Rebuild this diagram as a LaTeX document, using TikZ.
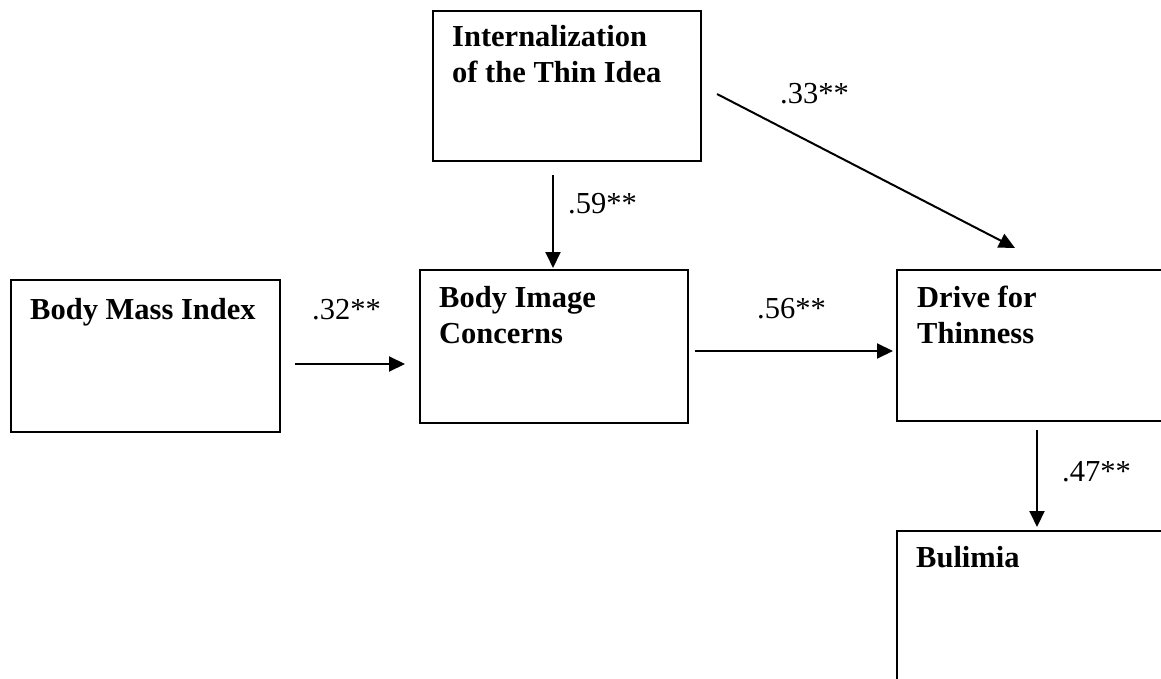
\documentclass[tikz,border=0pt]{standalone}
\usepackage{fontspec}
\setmainfont{Liberation Serif}
\usetikzlibrary{arrows.meta}
\newcommand{\Gross}{\fontsize{30.5}{36}\selectfont}
\tikzset{
  Kasten/.style={draw, line width=2pt, inner sep=0pt, anchor=north west}, % Rahmen
  Titel/.style={anchor=north west, inner sep=0pt, align=left, font=\Gross\bfseries}, % Text im Rahmen
  Wert/.style={anchor=base west, inner sep=0pt, font=\Gross}, % Pfadkoeffizient
  Pfeil/.style={line width=2pt, ->}
}

\begin{document}
\begin{tikzpicture}[x=1pt, y=1pt,
>={Triangle[length=16pt,width=15pt]} % Pfeilspitzen
]
\clip (0,0) rectangle (1161,-679);

%Kaesten
\node[Kasten, minimum width=268pt, minimum height=150pt] (intern) at (432,-10) {};
\node[Kasten, minimum width=269pt, minimum height=152pt] (bmi) at (10,-279) {};
\node[Kasten, minimum width=268pt, minimum height=153pt] (bodyimg) at (419,-269) {};
\node[Kasten, minimum width=300pt, minimum height=151pt] (drive) at (896,-269) {};
\node[Kasten, minimum width=300pt, minimum height=220pt] (bulimia) at (896,-530) {};

%Beschriftungen
\node[Titel] (intern-t) at ([shift={(20,-11)}]intern.north west) {\strut Internalization\\of the Thin Idea};
\node[Titel] (bmi-t) at ([shift={(20,-15)}]bmi.north west) {\strut Body Mass Index};
\node[Titel] (bodyimg-t) at ([shift={(20,-13)}]bodyimg.north west) {\strut Body Image\\Concerns};
\node[Titel] (drive-t) at ([shift={(21,-13)}]drive.north west) {\strut Drive for\\Thinness};
\node[Titel] (bulimia-t) at ([shift={(20,-12)}]bulimia.north west) {\strut Bulimia};

%Pfeile
\draw[Pfeil, shorten <=13pt, shorten >=1pt] ([xshift=-14pt]intern.south) -- ([xshift=-14pt]intern.south |- bodyimg.north);
\draw[Pfeil, shorten <=14pt, shorten >=14pt] ([yshift=-8pt]bmi.east) -- ([yshift=-8pt]bmi.east -| bodyimg.west);
\draw[Pfeil, shorten <=6pt, shorten >=3pt] ([yshift=-4.5pt]bodyimg.east) -- ([yshift=-4.5pt]bodyimg.east -| drive.west);
\draw[Pfeil] ([shift={(15pt,-8pt)}]intern.east) -- ([shift={(119pt,21pt)}]drive.north west);
\draw[Pfeil, shorten <=8pt, shorten >=3pt] ([xshift=-10pt]drive.south) -- ([xshift=-10pt]bulimia.north);

%Pfadkoeffizienten
\node[Wert] (w33) at (780,-104) {.33**};
\node[Wert] (w59) at (568,-213) {.59**};
\node[Wert] (w32) at (312,-319) {.32**};
\node[Wert] (w56) at (757,-318) {.56**};
\node[Wert] (w47) at (1062,-481) {.47**};

\end{tikzpicture}
\end{document}
